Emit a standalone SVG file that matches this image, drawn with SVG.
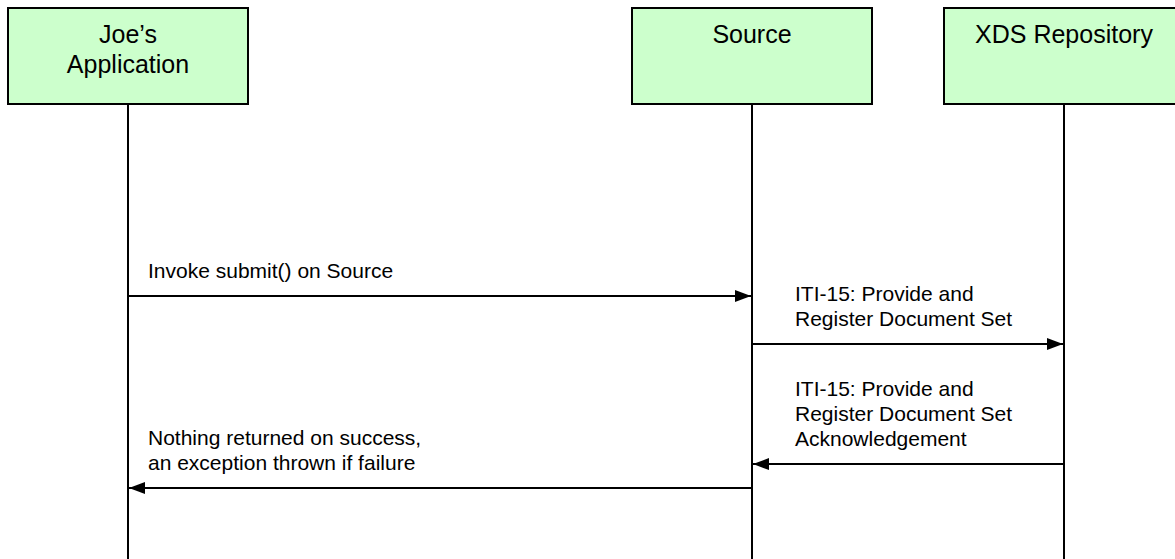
<svg xmlns="http://www.w3.org/2000/svg" width="1175" height="559" viewBox="0 0 1175 559">
  <style>
    .box { fill: #ccffcc; stroke: #000; stroke-width: 2; }
    .life { stroke: #000; stroke-width: 2; fill: none; }
    .msg { stroke: #000; stroke-width: 2; fill: none; }
    .title { font-family: "Liberation Sans", Arial, sans-serif; font-size: 25px; fill: #000; text-anchor: middle; }
    .lbl { font-family: "Liberation Sans", Arial, sans-serif; font-size: 21px; fill: #000; }
  </style>
  <defs>
    <marker id="arrow" viewBox="0 0 16 12" refX="16" refY="6" markerWidth="16" markerHeight="12" markerUnits="userSpaceOnUse" orient="auto">
      <path d="M0,0 L16,6 L0,12 Z" fill="#000"/>
    </marker>
  </defs>
  <rect width="1175" height="559" fill="#fff"/>

  <!-- participants: header box plus lifeline -->
  <g id="joes-application">
    <rect class="box" x="8" y="8" width="240" height="96"/>
    <line class="life" x1="128" y1="104" x2="128" y2="559"/>
    <text class="title" x="128" y="43">Joe’s</text>
    <text class="title" x="128" y="73">Application</text>
  </g>
  <g id="source">
    <rect class="box" x="632" y="8" width="240" height="96"/>
    <line class="life" x1="752" y1="104" x2="752" y2="559"/>
    <text class="title" x="752" y="43">Source</text>
  </g>
  <g id="xds-repository">
    <rect class="box" x="944" y="8" width="240" height="96"/>
    <line class="life" x1="1064" y1="104" x2="1064" y2="559"/>
    <text class="title" x="1064" y="43">XDS Repository</text>
  </g>

  <!-- messages between lifelines -->
  <g id="connectors">
    <line class="msg" x1="128" y1="296" x2="751" y2="296" marker-end="url(#arrow)"/>
    <line class="msg" x1="752" y1="344" x2="1063" y2="344" marker-end="url(#arrow)"/>
    <line class="msg" x1="1064" y1="464" x2="753" y2="464" marker-end="url(#arrow)"/>
    <line class="msg" x1="752" y1="488" x2="129" y2="488" marker-end="url(#arrow)"/>
  </g>

  <g id="labels">
    <text class="lbl" x="148" y="278">Invoke submit() on Source</text>
    <text class="lbl" x="795" y="301">ITI-15: Provide and</text>
    <text class="lbl" x="795" y="326">Register Document Set</text>
    <text class="lbl" x="795" y="396">ITI-15: Provide and</text>
    <text class="lbl" x="795" y="421">Register Document Set</text>
    <text class="lbl" x="795" y="446">Acknowledgement</text>
    <text class="lbl" x="148" y="445">Nothing returned on success,</text>
    <text class="lbl" x="148" y="470">an exception thrown if failure</text>
  </g>
</svg>
